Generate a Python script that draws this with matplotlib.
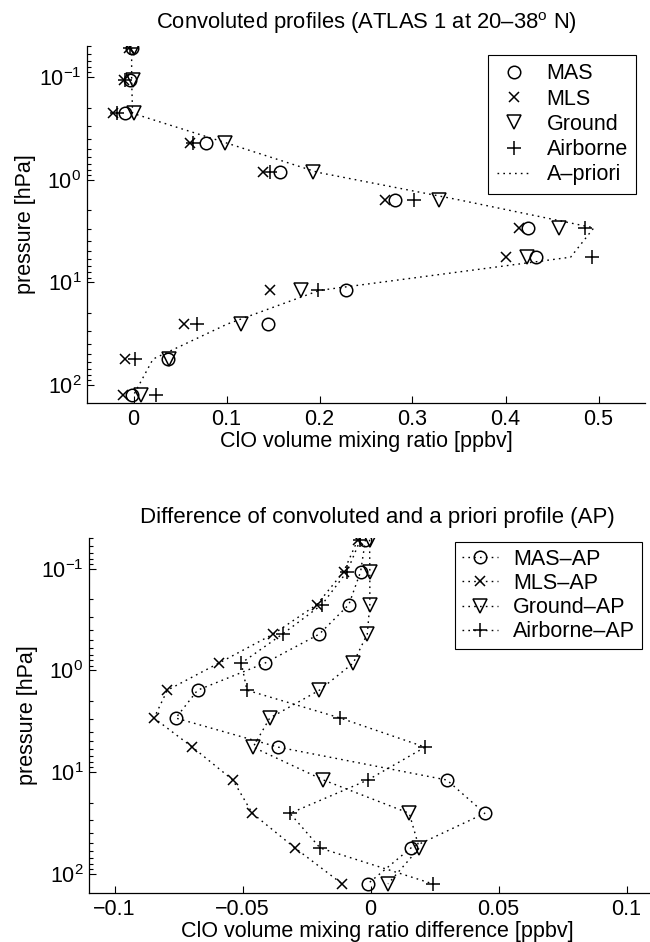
import matplotlib
matplotlib.use("Agg")
import matplotlib.pyplot as plt
from matplotlib.ticker import LogLocator, NullFormatter, FixedLocator, FixedFormatter

# ---------------- data ----------------
pressure = [0.052, 0.107, 0.226, 0.44, 0.85, 1.57, 2.95, 5.7, 12.0, 25.5, 56.0, 126.0]

# top panel: convoluted profiles [ppbv]
mas      = [-0.002, -0.004, -0.009, 0.078, 0.157, 0.281, 0.424, 0.433, 0.229, 0.145, 0.0376, -0.0014]
mls      = [-0.005, -0.010, -0.022, 0.0605, 0.139, 0.270, 0.414, 0.400, 0.1466, 0.0545, -0.0093, -0.011]
ground   = [0.000, -0.001, 0.001, 0.098, 0.193, 0.329, 0.457, 0.4226, 0.1806, 0.116, 0.038, 0.0086]
airborne = [-0.004, -0.009, -0.018, 0.064, 0.147, 0.302, 0.486, 0.4925, 0.1986, 0.0688, 0.0014, 0.0247]
apriori  = [-0.002, -0.002, -0.001, 0.100, 0.198, 0.349, 0.495, 0.470, 0.200, 0.101, 0.021, 0.000]

# bottom panel: differences to a priori [ppbv]
mas_ap      = [-0.002, -0.0039, -0.0085, -0.020, -0.0413, -0.0676, -0.0761, -0.0361, 0.0298, 0.0446, 0.0157, -0.0011]
mls_ap      = [-0.005, -0.0105, -0.021, -0.038, -0.0593, -0.0794, -0.0846, -0.0696, -0.0538, -0.0462, -0.0295, -0.0111]
ground_ap   = [-0.0004, -0.0003, -0.0003, -0.0013, -0.0068, -0.020, -0.0394, -0.0459, -0.0184, 0.0151, 0.019, 0.0068]
airborne_ap = [-0.004, -0.0092, -0.019, -0.0344, -0.0505, -0.0483, -0.0118, 0.0213, -0.0011, -0.0315, -0.0197, 0.0243]

top_xticks = [0, 0.1, 0.2, 0.3, 0.4, 0.5]
top_xticklabels = ["0", "0.1", "0.2", "0.3", "0.4", "0.5"]
bot_xticks = [-0.1, -0.05, 0, 0.05, 0.1]
bot_xticklabels = ["\u22120.1", "\u22120.05", "0", "0.05", "0.1"]

# ---------------- style ----------------
plt.rcParams['font.family'] = ['Liberation Sans', 'DejaVu Sans']
plt.rcParams['mathtext.fontset'] = 'custom'
plt.rcParams['mathtext.rm'] = 'Liberation Sans'
plt.rcParams['mathtext.it'] = 'Liberation Sans:italic'
plt.rcParams['axes.unicode_minus'] = True

FS = 15.5
dot = (0, (1.2, 3.0))

fig = plt.figure(figsize=(6.5, 9.42), dpi=100)
W, H = 650.0, 942.0

def make_ax(left, right, top, bottom):
    ax = fig.add_axes([left / W, 1 - bottom / H, (right - left) / W, (bottom - top) / H])
    ax.spines['top'].set_visible(False)
    ax.spines['right'].set_visible(False)
    ax.spines['left'].set_linewidth(0.9)
    ax.spines['bottom'].set_linewidth(0.9)
    ax.set_yscale('log')
    ax.yaxis.set_major_locator(LogLocator(base=10, numticks=10))
    ax.yaxis.set_minor_locator(LogLocator(base=10, subs=range(2, 10), numticks=20))
    ax.yaxis.set_minor_formatter(NullFormatter())
    ax.tick_params(which='both', direction='in', top=False, right=False, labelsize=FS, width=0.8)
    ax.tick_params(which='major', length=5, pad=4)
    ax.tick_params(which='minor', length=3)
    ax.set_ylabel('pressure [hPa]', fontsize=FS, labelpad=2)
    return ax

mk = dict(color='k', mfc='none', mec='k', mew=1.1)

# ---------------- top panel ----------------
ax1 = make_ax(87, 645, 46, 403)
ax1.plot(mas, pressure, ls='none', marker='o', ms=9, label='MAS', **mk)
ax1.plot(mls, pressure, ls='none', marker='x', ms=7, label='MLS', **mk)
ax1.plot(ground, pressure, ls='none', marker='v', ms=9.5, label='Ground', **mk)
ax1.plot(airborne, pressure, ls='none', marker='+', ms=9.5, label='Airborne', **mk)
ax1.plot(apriori, pressure, ls=dot, color='k', lw=1.0, label='A\u2013priori')
ax1.set_xlim(-0.05, 0.55)
ax1.set_ylim(150, 0.05)
ax1.xaxis.set_major_locator(FixedLocator(top_xticks))
ax1.xaxis.set_major_formatter(FixedFormatter(top_xticklabels))
ax1.set_xlabel('ClO volume mixing ratio [ppbv]', fontsize=FS, labelpad=1)
ax1.set_title('Convoluted profiles (ATLAS 1 at 20\u201338$^{\\rm o}$ N)', fontsize=15.8, pad=12)
leg1 = ax1.legend(loc='upper right', fontsize=FS, frameon=True, fancybox=False, edgecolor='k',
                  framealpha=1, handlelength=1.6, handletextpad=0.7, borderaxespad=0.4,
                  labelspacing=0.2, borderpad=0.4)
leg1.get_frame().set_linewidth(0.8)

# ---------------- bottom panel ----------------
ax2 = make_ax(89, 665, 538, 893)
ax2.plot(mas_ap, pressure, ls=dot, lw=1.0, marker='o', ms=9, label='MAS\u2013AP', **mk)
ax2.plot(mls_ap, pressure, ls=dot, lw=1.0, marker='x', ms=7, label='MLS\u2013AP', **mk)
ax2.plot(ground_ap, pressure, ls=dot, lw=1.0, marker='v', ms=9.5, label='Ground\u2013AP', **mk)
ax2.plot(airborne_ap, pressure, ls=dot, lw=1.0, marker='+', ms=9.5, label='Airborne\u2013AP', **mk)
ax2.set_xlim(-0.11, 0.115)
ax2.set_ylim(155, 0.05)
ax2.xaxis.set_major_locator(FixedLocator(bot_xticks))
ax2.xaxis.set_major_formatter(FixedFormatter(bot_xticklabels))
ax2.set_xlabel('ClO volume mixing ratio difference [ppbv]', fontsize=FS, labelpad=1)
ax2.set_title('Difference of convoluted and a priori profile (AP)', fontsize=16, pad=11)
leg2 = ax2.legend(loc='upper right', fontsize=FS, frameon=True, fancybox=False, edgecolor='k',
                  framealpha=1, handlelength=1.7, handletextpad=0.7, borderaxespad=0.2,
                  labelspacing=0.15, borderpad=0.3,
                  bbox_to_anchor=(0, 0, (646 - 89) / (665 - 89), 1))
leg2.get_frame().set_linewidth(0.8)

fig.savefig('out.png', dpi=100)
